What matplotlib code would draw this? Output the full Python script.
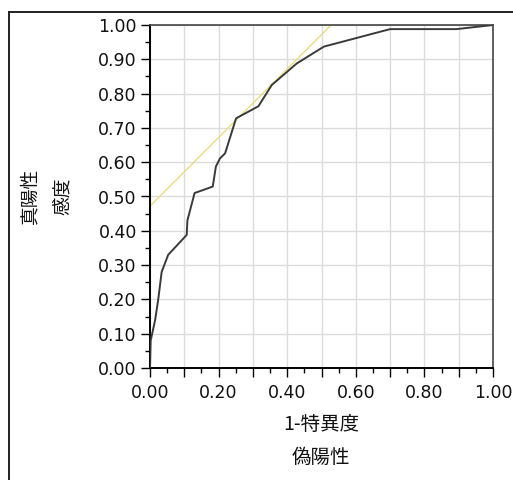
import matplotlib.pyplot as plt
from matplotlib.ticker import MultipleLocator, FormatStrFormatter
from matplotlib.lines import Line2D

# ROC curve points (1-specificity, sensitivity)
fpr = [0.000, 0.002, 0.015, 0.024, 0.034, 0.053, 0.107, 0.109, 0.130,
       0.183, 0.192, 0.204, 0.219, 0.251, 0.316, 0.355, 0.428, 0.507,
       0.700, 0.894, 1.000]
tpr = [0.000, 0.080, 0.140, 0.200, 0.280, 0.330, 0.388, 0.430, 0.510,
       0.529, 0.587, 0.611, 0.626, 0.728, 0.763, 0.825, 0.888, 0.937,
       0.988, 0.988, 1.000]

# tangent line (yellow)
tan_x = [0.0, 0.528]
tan_y = [0.472, 1.0]

x_label = '1-特異度'
x_label2 = '偽陽性'
y_label = '真陽性'
y_label2 = '感度'

cjk = ['Noto Sans CJK JP', 'DejaVu Sans']

fig = plt.figure(figsize=(5.13, 4.8), dpi=100)
ax = fig.add_axes([150 / 513, 1 - 368 / 480, 343 / 513, 343 / 480])

ax.plot(tan_x, tan_y, color='#e6df7a', linewidth=1.0, zorder=2)
ax.plot(fpr, tpr, color='#3a3a3a', linewidth=1.4, zorder=3)

ax.set_xlim(0, 1)
ax.set_ylim(0, 1)

ax.xaxis.set_major_locator(MultipleLocator(0.1))
ax.xaxis.set_minor_locator(MultipleLocator(0.05))
ax.yaxis.set_major_locator(MultipleLocator(0.1))
ax.yaxis.set_minor_locator(MultipleLocator(0.05))
ax.yaxis.set_major_formatter(FormatStrFormatter('%.2f'))
ax.xaxis.set_major_formatter(
    lambda v, pos: f'{v:.2f}' if round(v * 10) % 2 == 0 else '')

ax.grid(True, which='major', color='#dcdcdc', linewidth=1.0, zorder=0)
ax.set_axisbelow(True)

ax.tick_params(axis='both', which='major', length=6.5, width=1.0,
               labelsize=12.5, color='black', labelcolor='#111111')
ax.tick_params(axis='both', which='minor', length=3.5, width=1.0, color='black')
ax.tick_params(axis='x', which='major', pad=5)
ax.tick_params(axis='y', which='major', pad=3)

for side in ['left', 'bottom']:
    ax.spines[side].set_color('black')
    ax.spines[side].set_linewidth(1.4)
for side in ['top', 'right']:
    ax.spines[side].set_color('#444444')
    ax.spines[side].set_linewidth(1.2)

# axis titles
fig.text(321 / 513, 1 - 424 / 480, x_label, ha='center', va='center',
         fontsize=14, family=cjk, color='#111111')
fig.text(321 / 513, 1 - 457 / 480, x_label2, ha='center', va='center',
         fontsize=14, family=cjk, color='#111111')
fig.text(30 / 513, 1 - 196 / 480, y_label, ha='center', va='center',
         rotation=90, fontsize=13.5, family=cjk, color='#111111')
fig.text(62 / 513, 1 - 196 / 480, y_label2, ha='center', va='center',
         rotation=90, fontsize=13.5, family=cjk, color='#111111')

# panel frame (top and left edges)
fig.add_artist(Line2D([9 / 513, 1], [1 - 12 / 480, 1 - 12 / 480],
                      transform=fig.transFigure, color='#222222', linewidth=1.4))
fig.add_artist(Line2D([9 / 513, 9 / 513], [0, 1 - 12 / 480],
                      transform=fig.transFigure, color='#222222', linewidth=1.4))

fig.savefig('out.png', dpi=100)
